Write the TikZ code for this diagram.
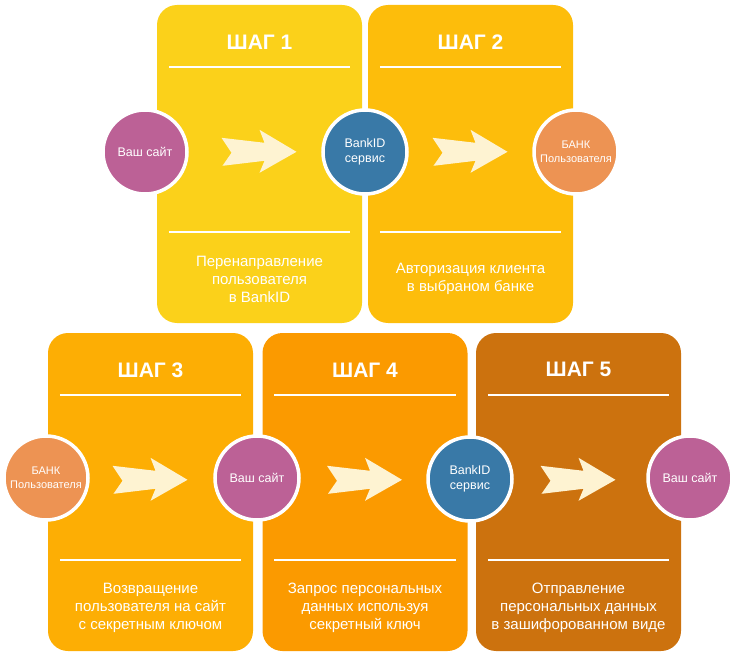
\documentclass[tikz,border=0pt]{standalone}
\usepackage{fontspec}
\setmainfont{Liberation Sans}
\usetikzlibrary{calc}

\definecolor{stepA}{HTML}{FBD11A}
\definecolor{stepB}{HTML}{FDBD0B}
\definecolor{stepC}{HTML}{FDAE04}
\definecolor{stepD}{HTML}{FB9A00}
\definecolor{stepE}{HTML}{CC720E}
\definecolor{site}{HTML}{BC6196}
\definecolor{bankid}{HTML}{3979A7}
\definecolor{bank}{HTML}{ED9353}
\definecolor{arrowcream}{HTML}{FEF3D2}

\tikzset{
  panel/.style={rectangle, rounded corners=20pt, minimum width=205pt,
    minimum height=318pt, inner sep=0pt},
  steptitle/.style={text=white, font=\fontsize{21}{25}\selectfont\bfseries},
  steptext/.style={text=white, align=center, font=\fontsize{15}{18}\selectfont},
  divider/.style={white, line width=1.5pt},
  party/.style={circle, draw=white, line width=3.5pt, minimum size=84pt,
    inner sep=0pt, text=white, align=center, font=\fontsize{12.5}{15}\selectfont},
  smallparty/.style={party, font=\fontsize{11}{14}\selectfont},
}

\begin{document}
\begin{tikzpicture}[x=1pt, y=-1pt]
\useasboundingbox (0,0) rectangle (740,658);

% draw the step panels
\foreach \n/\x/\y/\col in {p1/259.5/164/stepA, p2/470.5/164/stepB,
  p3/150.5/492/stepC, p4/365/492/stepD, p5/578.5/492/stepE}
\node[panel, fill=\col] (\n) at (\x,\y) {};

\foreach \n/\k in {p1/1,p2/2,p3/3,p4/4,p5/5} {
% title of each step
\node[steptitle] (t\k) at ($(\n.north)+(0,37)$) {ШАГ \k};
% white lines above and below the middle
\draw[divider] ($(\n.north west)+(12,62)$) -- ($(\n.north east)+(-12,62)$);
\draw[divider] ($(\n.north west)+(12,227)$) -- ($(\n.north east)+(-12,227)$);
% big arrow in the middle
\fill[arrowcream, shift={($(\n.north)+(37,147)$)}] (0,0) -- (-37,-22)
  -- (-32,-9) -- (-75,-14) -- (-65,1) -- (-74,14) -- (-32,9) -- (-37,21) -- cycle;
}

% texts under each step
\node[steptext] (d1) at ($(p1.north)+(0,275)$) {Перенаправление\\пользователя\\в BankID};
\node[steptext] (d2) at ($(p2.north)+(0,274)$) {Авторизация клиента\\в выбраном банке};
\node[steptext] (d3) at ($(p3.north)+(0,275)$) {Возвращение\\пользователя на сайт\\с секретным ключом};
\node[steptext] (d4) at ($(p4.north)+(0,275)$) {Запрос персональных\\данных используя\\секретный ключ};
\node[steptext] (d5) at ($(p5.north)+(0,275)$) {Отправление\\персональных данных\\в зашифорованном виде};

% the circles on the panel edges
\node[party, fill=site] (site1) at (145,152) {Ваш сайт};
\node[party, fill=bankid] (bankid1) at (365,152) {BankID\\сервис};
\node[smallparty, fill=bank] (bank1) at (576,152) {БАНК\\Пользователя};
\node[smallparty, fill=bank] (bank2) at (46,478) {БАНК\\Пользователя};
\node[party, fill=site] (site2) at (257,478) {Ваш сайт};
\node[party, fill=bankid] (bankid2) at (470,479) {BankID\\сервис};
\node[party, fill=site] (site3) at (690,478) {Ваш сайт};
\end{tikzpicture}
\end{document}
